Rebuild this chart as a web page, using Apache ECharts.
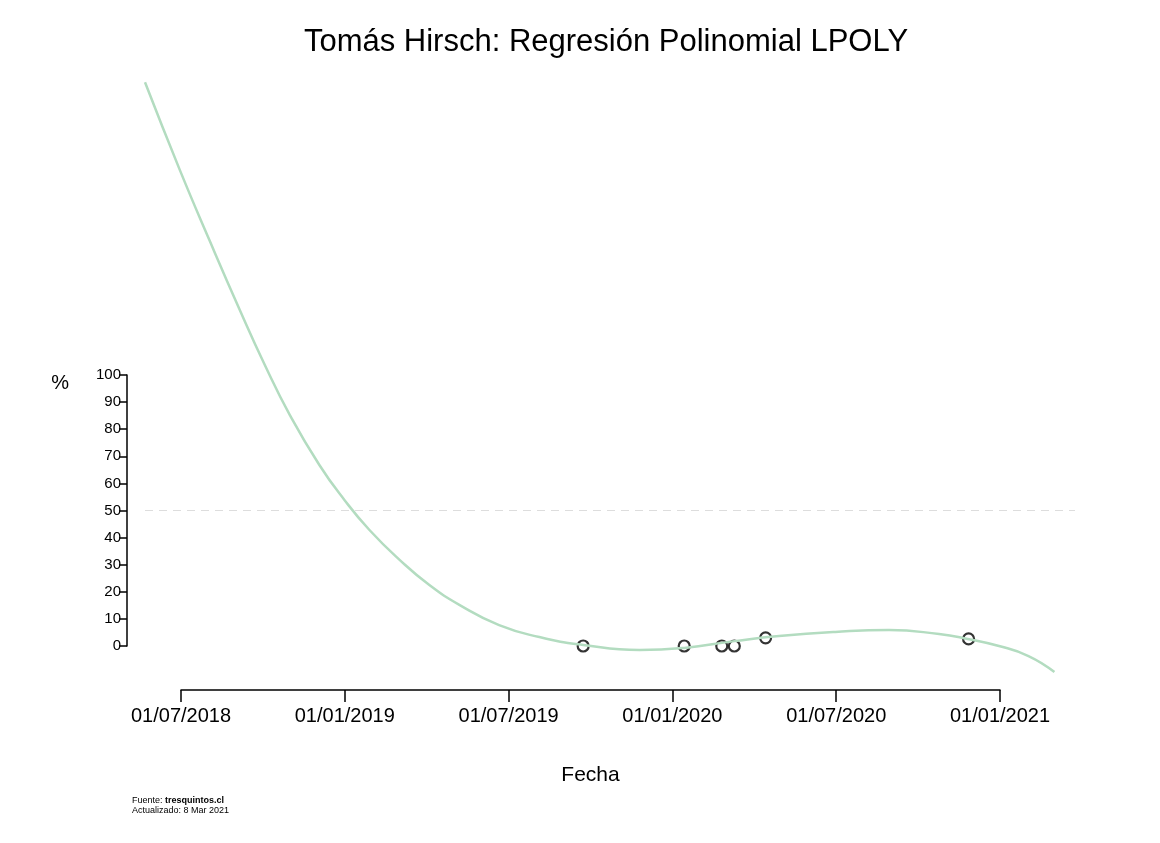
<!DOCTYPE html>
<html><head><meta charset="utf-8">
<script src="https://cdn.jsdelivr.net/npm/echarts@6/dist/echarts.min.js"></script>
<style>html,body{margin:0;background:#fff}#c{width:1160px;height:843px}</style>
</head><body><div id="c"></div>
<script>
const curveDates = ["2018-05-22","2018-06-30","2018-08-02","2018-09-05","2018-10-03","2018-10-31","2018-12-03","2018-12-31","2019-01-28","2019-03-03","2019-04-05","2019-05-09","2019-06-22","2019-08-06","2019-09-24","2019-11-26","2020-01-15","2020-03-11","2020-04-30","2020-07-02","2020-08-31","2020-10-26","2020-11-27","2021-01-01","2021-02-03","2021-03-04"];
const curveValues = [208,175.6,149.8,124,103.7,85.2,66.8,53.9,42.8,31.7,22.5,15.1,7.7,3.3,0.4,-1.5,-0.7,1.8,3.7,5.2,5.9,4.4,2.6,0,-3.7,-9.6];
const pointDates = ["2019-09-24","2020-01-15","2020-02-26","2020-03-11","2020-04-15","2020-11-28"];
const pointValues = [0,0,0,0,3,2.6];
const xTickLabels = ["01/07/2018","01/01/2019","01/07/2019","01/01/2020","01/07/2020","01/01/2021"];
const yTicks = [0,10,20,30,40,50,60,70,80,90,100];
const F = "Liberation Sans, Arial, sans-serif";
const chart = echarts.init(document.getElementById('c'));
chart.setOption({
  animation:false,
  title:{text:"Tomás Hirsch: Regresión Polinomial LPOLY",left:601,top:22,textAlign:'center',
    textStyle:{fontFamily:F,fontSize:31,fontWeight:'normal',color:'#000'}},
  grid:[
    {left:145,width:930,top:76.9,height:623.3},
    {left:127,width:10,top:375,height:271},
    {left:181,width:819,top:600,height:90}
  ],
  xAxis:[
    {type:'time',gridIndex:0,min:'2018-05-22',max:'2021-03-27',show:false},
    {type:'value',gridIndex:1,show:false},
    {type:'value',gridIndex:2,min:0,max:5,interval:1,
      axisLine:{lineStyle:{color:'#000',width:1.5}},
      axisTick:{inside:false,length:12,lineStyle:{color:'#000',width:1.5}},
      splitLine:{show:false},
      axisLabel:{formatter:v=>xTickLabels[v],fontFamily:F,fontSize:20,color:'#000',margin:16},
      name:'Fecha',nameLocation:'middle',nameGap:75,nameTextStyle:{fontFamily:F,fontSize:21,color:'#000'}}
  ],
  yAxis:[
    {type:'value',gridIndex:0,min:-20,max:210,show:false},
    {type:'value',gridIndex:1,min:0,max:100,interval:10,position:'left',
      axisLine:{show:true,lineStyle:{color:'#000',width:1.5}},
      axisTick:{show:true,length:8,lineStyle:{color:'#000',width:1.5}},
      splitLine:{show:false},
      axisLabel:{fontFamily:F,fontSize:15,color:'#000',margin:6},
      name:'%',nameLocation:'end',nameRotate:0,nameGap:-8,
      nameTextStyle:{fontFamily:F,fontSize:20,color:'#000',align:'right',padding:[0,58,0,0],verticalAlign:'middle'}},
    {type:'value',gridIndex:2,show:false}
  ],
  series:[
    {type:'line',xAxisIndex:0,yAxisIndex:0,smooth:true,symbol:'none',
      data:curveDates.map((d,i)=>[d,curveValues[i]]),
      lineStyle:{color:'#b3dcc0',width:2.5},
      markLine:{silent:true,symbol:'none',label:{show:false},
        lineStyle:{color:'#ddd',type:[8,6],width:1},data:[{yAxis:50}]}},
    {type:'scatter',xAxisIndex:0,yAxisIndex:0,symbol:'circle',symbolSize:11,
      data:pointDates.map((d,i)=>[d,pointValues[i]]),
      itemStyle:{color:'#fff',borderColor:'#000',borderWidth:2.2}}
  ],
  graphic:[
    {type:'text',left:132,top:796,style:{rich:{b:{fontWeight:'bold',fontFamily:F,fontSize:9}},text:'Fuente: {b|tresquintos.cl}\nActualizado: 8 Mar 2021',font:'9px '+F,fill:'#000',lineHeight:10}}
  ]
});
</script></body></html>
